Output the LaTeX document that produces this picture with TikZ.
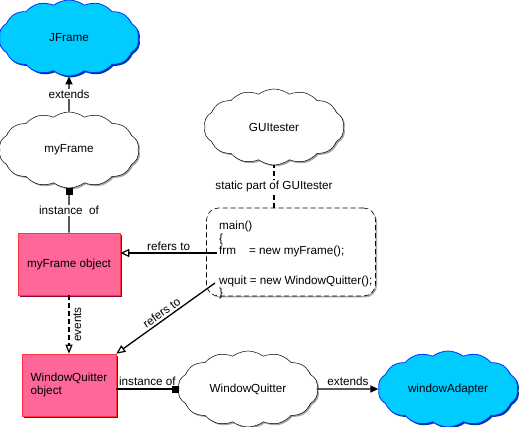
\documentclass[tikz,border=0pt]{standalone}
\usepackage{fontspec}
\setmainfont{Liberation Sans}
\usetikzlibrary{shapes.symbols,shadows,arrows.meta}
\definecolor{cyanfill}{HTML}{00CCFF}
\definecolor{cyanline}{HTML}{0033FF}
\definecolor{cyanshadow}{HTML}{003399}
\definecolor{pinkfill}{HTML}{FF6699}
\definecolor{pinkline}{HTML}{FF3344}
\definecolor{pinkshadow}{HTML}{990022}
\tikzset{
  every node/.style={font=\fontsize{11.7}{13.5}\selectfont},
  cloudbase/.style={cloud, cloud puffs=14, cloud puff arc=75, aspect=2, inner sep=0pt,
     minimum width=140pt, minimum height=76pt},
  classcloud/.style={cloudbase, draw=black, fill=white, line width=0.5pt,
     drop shadow={shadow xshift=1.5pt, shadow yshift=-1.5pt, fill=gray!70, opacity=1}},
  libcloud/.style={cloudbase, draw=cyanline, fill=cyanfill, line width=0.8pt,
     drop shadow={shadow xshift=1.5pt, shadow yshift=-1.5pt, fill=cyanshadow, opacity=1}},
  objbox/.style={rectangle, draw=pinkline, fill=pinkfill, line width=0.6pt,
     minimum width=102pt, minimum height=62pt,
     drop shadow={shadow xshift=2pt, shadow yshift=-2pt, fill=pinkshadow, opacity=1}},
  codebox/.style={rectangle, rounded corners=12pt, draw=black, line width=0.6pt,
     dash pattern=on 5pt off 3pt, fill=white,
     minimum width=169pt, minimum height=88pt,
     drop shadow={shadow xshift=1.5pt, shadow yshift=-1.5pt, fill=gray!70, opacity=1}},
  conn/.style={line width=1.3pt},
  dashconn/.style={conn, dash pattern=on 5pt off 3pt},
  extarrow/.style={conn, -{Triangle[length=8pt,width=7pt]}},
  refarrow/.style={conn, -{Triangle[open,length=9pt,width=8pt,line width=1.2pt]}},
  sq/.style={-{Square[length=7pt,width=7pt]}},
  lbl/.style={fill=white, inner sep=1pt},
}
\begin{document}
\begin{tikzpicture}[x=1pt,y=-1pt]
\useasboundingbox (0,0) rectangle (519,427);

\node[libcloud] (jframe) at (69,38) {JFrame};
\node[classcloud] (myframe) at (69,150) {myFrame};
\node[classcloud] (guitester) at (274,127) {GUItester};
\node[objbox] (mfo) at (69,264) {myFrame object};
\node[objbox, minimum width=94pt, align=left] (wqo) at (69,385) {WindowQuitter\\object};
\node[classcloud] (wqcloud) at (248,389) {WindowQuitter};
\node[libcloud] (wadapter) at (448,389) {windowAdapter};

\node[codebox] (code) at (291,252) {};
\node[anchor=north west, align=left, inner sep=0pt,
      font=\fontsize{11.7}{12.5}\selectfont] (codetxt) at (219,221)
  {main()\\\{\\frm\ \ \ \ = new myFrame();\\[17pt]wquit = new WindowQuitter();\\\}};

% extends myFrame -> JFrame
\draw[extarrow] (myframe.north) -- (jframe.south) node[midway, lbl] {extends};
% instance of: myFrame object -> myFrame
\draw[conn, sq] (mfo.north) -- (myframe.south) node[midway, lbl] {instance\ \ of};
% static part
\draw[dashconn] (code.north -| guitester.south) -- (guitester.south)
   node[midway, lbl] {static part of GUItester};
% refers to (frm)
\coordinate (frm) at (217,253);
\draw[refarrow] (frm) -- (mfo.east |- frm) node[midway, above, inner sep=2pt] {refers to};
% refers to (wquit)
\coordinate (wq) at (215,283);
\draw[refarrow] (wq) -- (wqo.north east) node[midway, sloped, above, inner sep=2pt] {refers to};
% events
\draw[dashconn, -{Triangle[open,length=9pt,width=7pt,line width=1.2pt]}] (mfo.south) -- (wqo.north)
   node[midway, rotate=90, anchor=north, inner sep=4pt] {events};
% instance of WindowQuitter
\draw[conn, sq] (wqo.east |- wqcloud.west) -- (wqcloud.west) node[midway, above, inner sep=3pt] {instance of};
% extends WindowQuitter -> windowAdapter
\draw[extarrow] (wqcloud.east) -- (wadapter.west) node[midway, above, inner sep=3pt] {extends};
\end{tikzpicture}
\end{document}
